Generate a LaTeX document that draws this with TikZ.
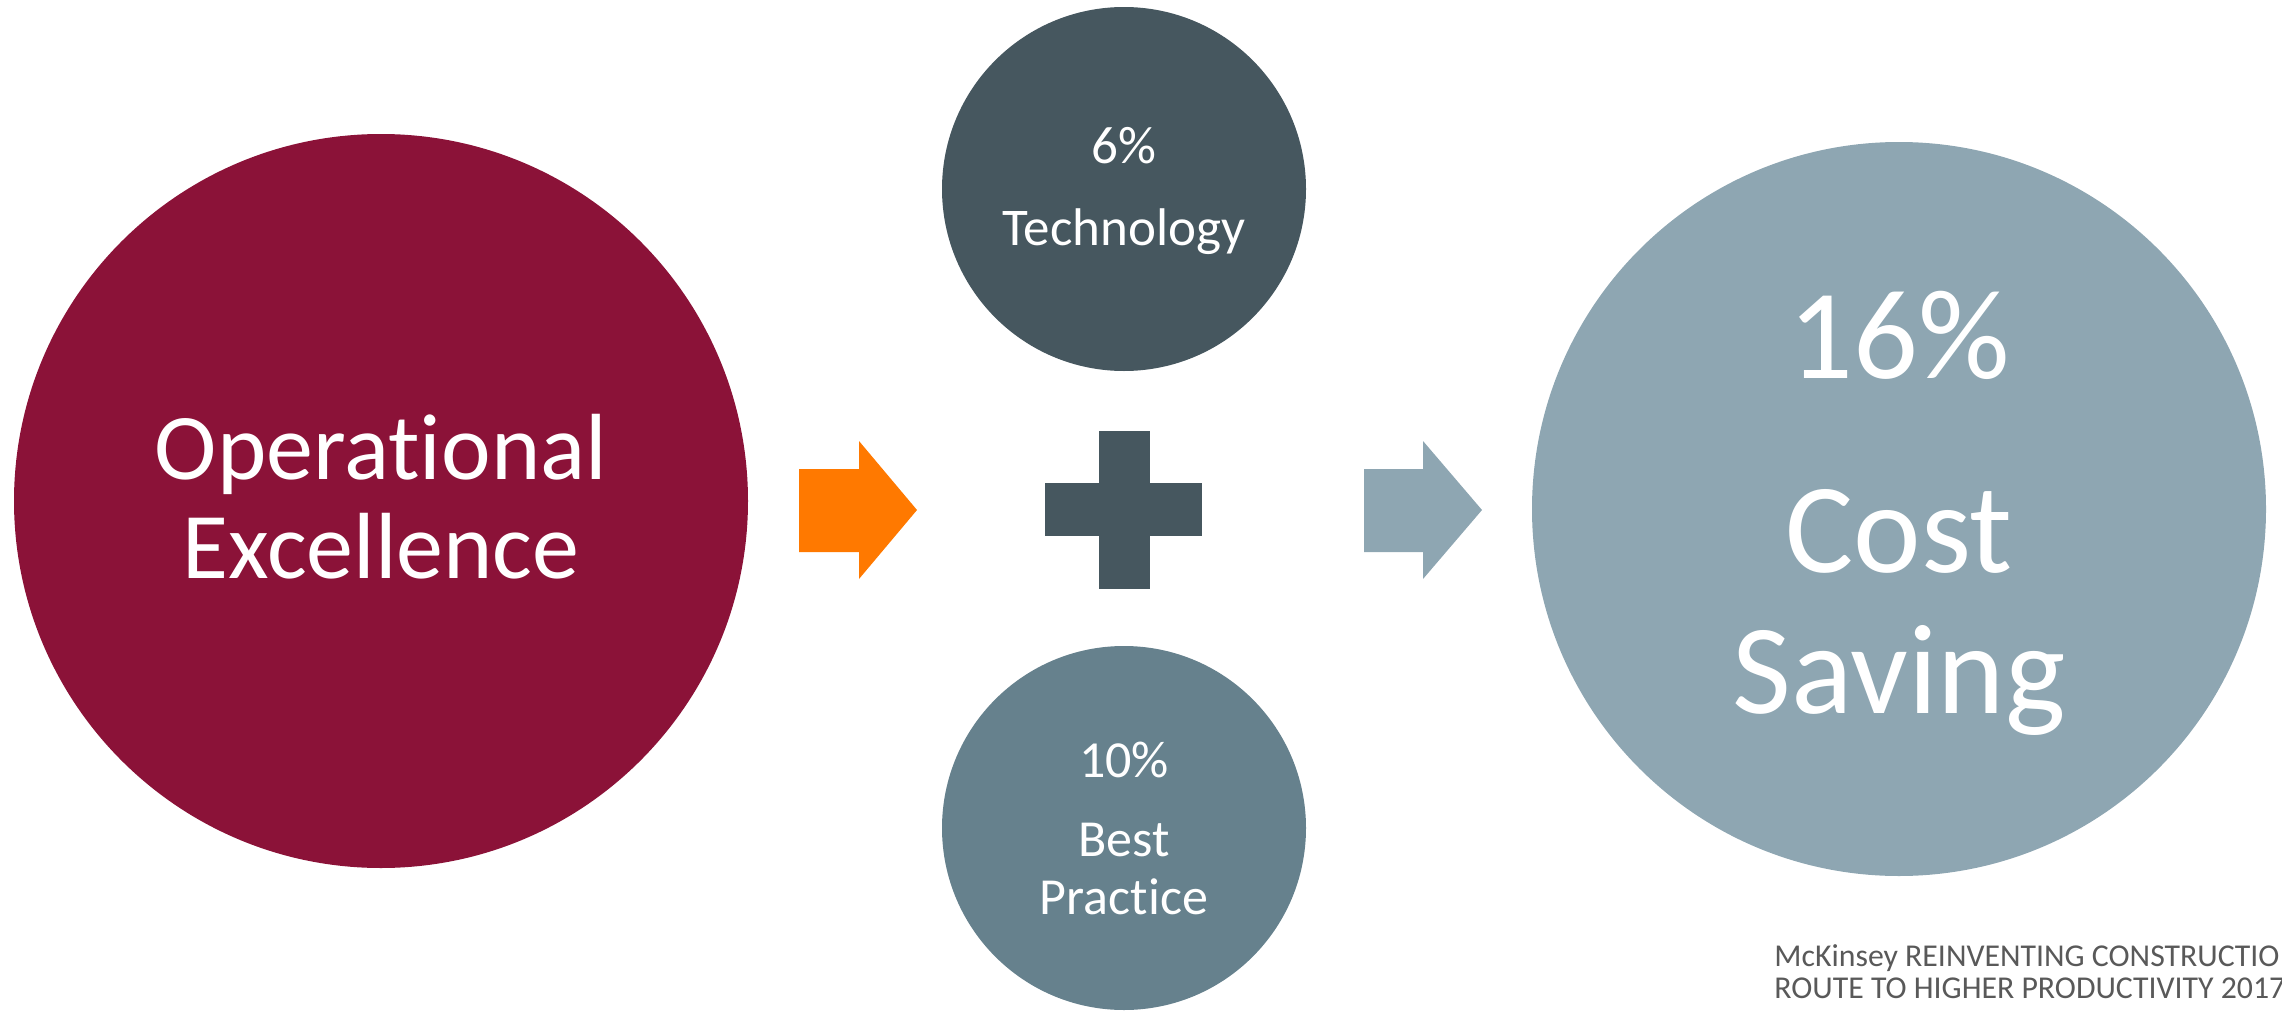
\documentclass[tikz,border=0pt]{standalone}
\usepackage{fontspec}
\setmainfont{Carlito}[Ligatures=NoCommon]
\definecolor{wine}{HTML}{8B1238}
\definecolor{slate}{HTML}{46575F}
\definecolor{steel}{HTML}{66818D}
\definecolor{mist}{HTML}{8EA6B2}
\definecolor{orng}{HTML}{FF7900}
\definecolor{note}{HTML}{595959}
\begin{document}
\begin{tikzpicture}[x=0.5pt,y=-0.5pt,
  disc/.style={circle,inner sep=0pt,draw=none},
  wtext/.style={text=white,inner sep=0pt,anchor=base},
  ntext/.style={text=note,inner sep=0pt,anchor=base west,font=\fontsize{15.9}{19}\selectfont}]
\clip (0,0) rectangle (2282,1012);
\useasboundingbox (0,0) rectangle (2282,1012);
% circles
\node[disc,fill=wine,minimum size=367pt] (ops) at (381,501) {};
\node[disc,fill=slate,minimum size=182pt] (tech) at (1124,189) {};
\node[disc,fill=steel,minimum size=182pt] (best) at (1124,828) {};
\node[disc,fill=mist,minimum size=367pt] (cost) at (1899,509) {};
% texts
\node[wtext,font=\fontsize{47}{50}\selectfont] (opsA) at (381,479) {Operational};
\node[wtext,font=\fontsize{47}{50}\selectfont] (opsB) at (381,578) {Excellence};
\node[wtext,font=\fontsize{26.5}{30}\selectfont] (techA) at (1124,163) {6\%};
\node[wtext,font=\fontsize{26.5}{30}\selectfont] (techB) at (1124,245) {Technology};
\node[wtext,font=\fontsize{26}{30}\selectfont] (bestA) at (1124,777) {10\%};
\node[wtext,font=\fontsize{26}{30}\selectfont] (bestB) at (1124,856) {Best};
\node[wtext,font=\fontsize{26}{30}\selectfont] (bestC) at (1124,914) {Practice};
\node[wtext,font=\fontsize{64}{70}\selectfont] (costA) at (1899,378) {16\%};
\node[wtext,font=\fontsize{64}{70}\selectfont] (costB) at (1899,572) {Cost};
\node[wtext,font=\fontsize{64}{70}\selectfont] (costC) at (1899,713) {Saving};
% arrows
\fill[orng] (799,469) -- (859,469) -- (859,441) -- (917,510) -- (859,579) -- (859,552) -- (799,552) -- cycle;
\fill[mist] (1364,469) -- (1423,469) -- (1423,441) -- (1482,510) -- (1423,579) -- (1423,552) -- (1364,552) -- cycle;
% plus
\fill[slate] (1045,483) rectangle (1202,536);
\fill[slate] (1099,431) rectangle (1150,589);
% note
\node[ntext] (noteA) at (1774,966) {McKinsey REINVENTING CONSTRUCTIO};
\node[ntext] (noteB) at (1774,998) {ROUTE TO HIGHER PRODUCTIVITY 2017};
\end{tikzpicture}
\end{document}
